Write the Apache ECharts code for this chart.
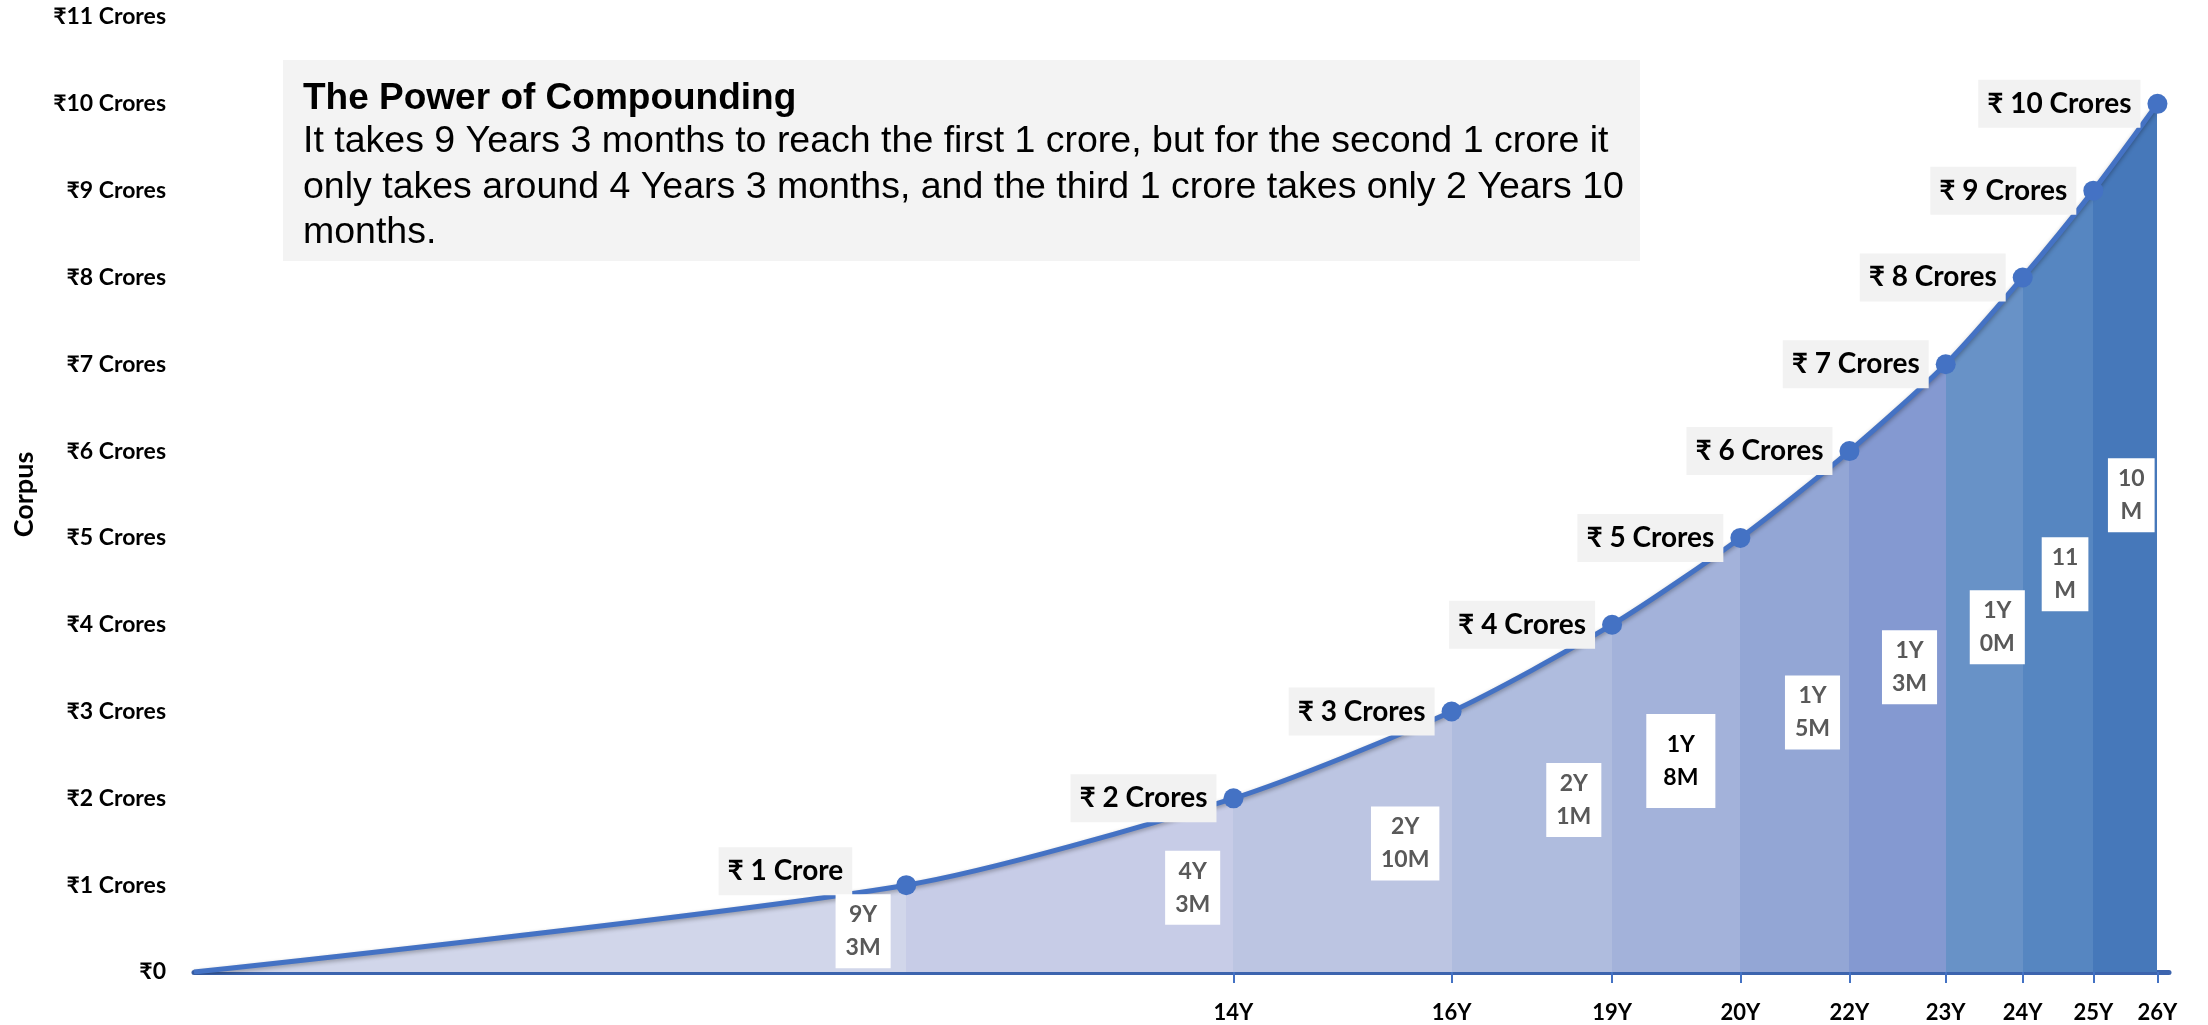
<!DOCTYPE html>
<html>
<head>
<meta charset="utf-8">
<script src="https://cdn.jsdelivr.net/npm/echarts@6/dist/echarts.min.js"></script>
<style>
html,body{margin:0;padding:0;background:#fff;}
#chart{width:2208px;height:1025px;}
</style>
</head>
<body>
<div id="chart"></div>
<script>
// ---- data ----
const milestoneYears = [0, 9.25, 13.5, 16.333, 18.417, 20.083, 21.5, 22.75, 23.75, 24.667, 25.5];
const milestoneCrores = [0, 1, 2, 3, 4, 5, 6, 7, 8, 9, 10];
const milestoneLabels = ['', '₹ 1 Crore', '₹ 2 Crores', '₹ 3 Crores', '₹ 4 Crores', '₹ 5 Crores', '₹ 6 Crores', '₹ 7 Crores', '₹ 8 Crores', '₹ 9 Crores', '₹ 10 Crores'];
const xTickLabels = ['14Y', '16Y', '19Y', '20Y', '22Y', '23Y', '24Y', '25Y', '26Y'];
const yTickLabels = ['₹0', '₹1 Crores', '₹2 Crores', '₹3 Crores', '₹4 Crores', '₹5 Crores', '₹6 Crores', '₹7 Crores', '₹8 Crores', '₹9 Crores', '₹10 Crores', '₹11 Crores'];
const durationLabels = ['9Y\n3M', '4Y\n3M', '2Y\n10M', '2Y\n1M', '1Y\n8M', '1Y\n5M', '1Y\n3M', '1Y\n0M', '11\nM', '10\nM'];
const durationLabelX = [8.69, 12.97, 15.73, 17.92, 19.31, 21.02, 22.28, 23.42, 24.30, 25.16];
const durationLabelY = [0.47, 0.97, 1.48, 1.98, 2.43, 2.99, 3.51, 3.97, 4.58, 5.49];
const titleText = 'The Power of Compounding';
const bodyText = 'It takes 9 Years 3 months to reach the first 1 crore, but for the second 1 crore it\nonly takes around 4 Years 3 months, and the third 1 crore takes only 2 Years 10\nmonths.';

// ---- styles ----
const bandColors = ['#d1d6ea', '#c7cce7', '#bcc5e2', '#afbcde', '#a3b2da', '#93a6d5', '#8499d1', '#6892c7', '#5686c1', '#4678ba'];
const FONT = 'Lato, "Noto Sans", "DejaVu Sans", sans-serif';
const lineColor = '#4472c4';

const pts = milestoneYears.map((x, i) => [x, milestoneCrores[i]]);
const pieces = bandColors.map((c, i) => {
  const p = { gte: milestoneYears[i], color: c };
  if (i === bandColors.length - 1) p.lte = milestoneYears[i + 1]; else p.lt = milestoneYears[i + 1];
  return p;
});

const lineData = pts.map((p, i) => {
  const item = { value: p };
  if (i === 0) { item.symbol = 'none'; item.label = { show: false }; }
  return item;
});

const tickVals = milestoneYears.slice(2);

const chart = echarts.init(document.getElementById('chart'));
chart.setOption({
  backgroundColor: '#ffffff',
  animation: false,
  grid: { left: 194, right: 39, top: 17, bottom: 53, containLabel: false, outerBoundsMode: 'none' },
  xAxis: {
    type: 'value', min: 0, max: 25.65,
    axisLine: { show: true, lineStyle: { color: '#3c64ae', width: 5 } },
    splitLine: { show: false },
    axisTick: { show: true, customValues: tickVals, length: 11, lineStyle: { color: '#4472c4', width: 2 } },
    axisLabel: {
      customValues: tickVals, margin: 30,
      fontFamily: FONT, fontWeight: 'bold', fontSize: 22, color: '#000',
      formatter: function (v) {
        let best = 0, d = 1e9;
        tickVals.forEach((t, i) => { if (Math.abs(t - v) < d) { d = Math.abs(t - v); best = i; } });
        return xTickLabels[best];
      }
    }
  },
  yAxis: {
    type: 'value', min: 0, max: 11, interval: 1,
    name: 'Corpus', nameLocation: 'middle', nameGap: 156,
    nameTextStyle: { fontFamily: FONT, fontWeight: 'bold', fontSize: 27, color: '#000' },
    axisLine: { show: false }, axisTick: { show: false }, splitLine: { show: false },
    axisLabel: {
      margin: 28, fontFamily: FONT, fontWeight: 'bold', fontSize: 23, color: '#000',
      formatter: function (v) { return yTickLabels[Math.round(v)]; }
    }
  },
  visualMap: {
    type: 'piecewise', show: false, dimension: 0, seriesIndex: 0, pieces: pieces
  },
  series: [
    {
      type: 'line', data: pts, smooth: 0.25, symbol: 'none', z: 1, silent: true,
      lineStyle: { width: 0, opacity: 0 },
      areaStyle: { opacity: 1 }
    },
    {
      type: 'line', data: lineData, smooth: 0.25, z: 3, silent: true,
      symbol: 'circle', symbolSize: 20, showAllSymbol: true,
      itemStyle: { color: lineColor },
      lineStyle: { color: lineColor, width: 5, shadowColor: 'rgba(0,0,0,0.3)', shadowBlur: 4, shadowOffsetY: 2 },
      label: {
        show: true, position: 'left', distance: 7,
        formatter: function (p) { return milestoneLabels[p.dataIndex]; },
        backgroundColor: '#f2f2f2', padding: [7, 9, 7, 9],
        fontFamily: FONT, fontWeight: 'bold', fontSize: 28, lineHeight: 34, color: '#000'
      },
      labelLayout: function (params) {
        if (params.dataIndex === 1) return { dx: -37, dy: -14 };
        return {};
      }
    },
    {
      type: 'scatter', z: 4, silent: true, symbolSize: 0,
      itemStyle: { opacity: 1 },
      data: durationLabelX.map((x, i) => {
        const item = { value: [x, durationLabelY[i]] };
        if (durationLabels[i] === '1Y\n8M') item.label = { color: '#000', padding: [14, 17, 14, 17] };
        return item;
      }),
      label: {
        show: true, position: 'inside', opacity: 1,
        formatter: function (p) { return durationLabels[p.dataIndex]; },
        backgroundColor: '#ffffff', padding: [4, 10, 4, 10],
        fontFamily: FONT, fontWeight: 'bold', fontSize: 23, lineHeight: 33, color: '#595959', align: 'center'
      }
    }
  ],
  graphic: [
    { type: 'rect', left: 283, top: 60, z: 10, shape: { width: 1357, height: 201 }, style: { fill: '#f3f3f3' } },
    { type: 'text', left: 303, top: 80, z: 11, style: { text: titleText, fontFamily: '"Liberation Sans", Arial, sans-serif', fontWeight: 'bold', fontSize: 37, fill: '#000' } },
    { type: 'text', left: 303, top: 119, z: 11, style: { text: bodyText, fontFamily: '"Liberation Sans", Arial, sans-serif', fontSize: 37.5, lineHeight: 45.5, fill: '#000' } }
  ]
});
</script>
</body>
</html>
